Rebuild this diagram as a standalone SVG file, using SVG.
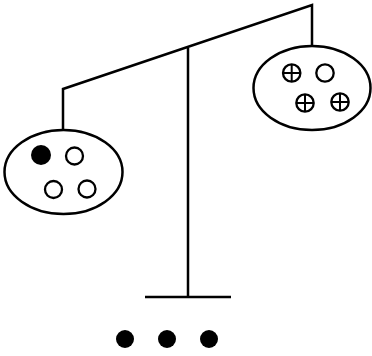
<svg xmlns="http://www.w3.org/2000/svg" width="372" height="356" viewBox="0 0 372 356">
<style>
.ln{fill:none;stroke:#000;stroke-width:2.5;stroke-linecap:butt;stroke-linejoin:miter}
.pan{fill:#fff;stroke:#000;stroke-width:2.5}
.o{fill:#fff;stroke:#000;stroke-width:2.3}
.f{fill:#000}
.p{stroke:#000;stroke-width:2}
</style>
<defs>
<g id="plus"><circle class="o" r="8.7"/><line class="p" x1="-8.7" y1="0" x2="8.7" y2="0"/><line class="p" x1="0" y1="-8.7" x2="0" y2="8.7"/></g>
</defs>
<g id="connectors">
<polyline class="ln" points="63,130 63,89 312,5 312,46"/>
<line class="ln" x1="188" y1="48" x2="188" y2="297"/>
<line class="ln" x1="145" y1="297" x2="231" y2="297"/>
</g>
<g id="left-pan">
<ellipse class="pan" cx="63.5" cy="172" rx="59" ry="42"/>
<circle class="f" cx="41" cy="155" r="10"/>
<circle class="o" cx="74.5" cy="156" r="8.5"/>
<circle class="o" cx="53.5" cy="189.5" r="8.5"/>
<circle class="o" cx="87" cy="189" r="8.5"/>
</g>
<g id="right-pan">
<ellipse class="pan" cx="312" cy="88" rx="58.5" ry="42"/>
<use href="#plus" x="291.7" y="73"/>
<circle class="o" cx="325" cy="73" r="8.7"/>
<use href="#plus" x="305" y="103"/>
<use href="#plus" x="340" y="102"/>
</g>
<g id="dots">
<circle class="f" cx="125" cy="339" r="9"/>
<circle class="f" cx="167" cy="339" r="9"/>
<circle class="f" cx="209" cy="339" r="9"/>
</g>
</svg>
